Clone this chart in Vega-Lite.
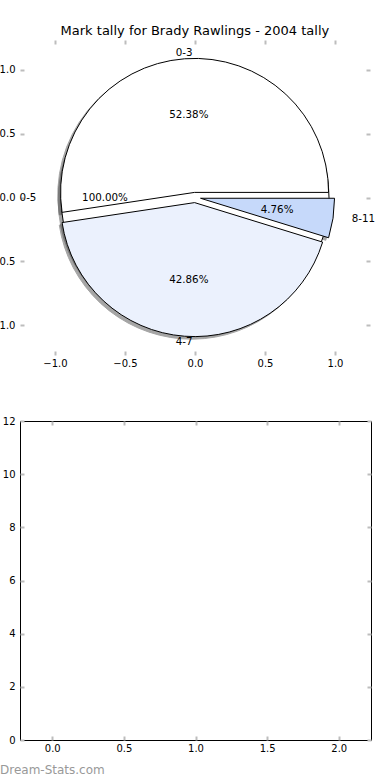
{
  "$schema": "https://vega.github.io/schema/vega-lite/v6.json",
  "padding": {"left": -10, "top": 25, "right": 5, "bottom": 0},
  "title": {"text": "Mark tally for Brady Rawlings - 2004 tally", "font": "DejaVu Sans", "fontSize": 13, "fontWeight": "normal", "color": "black", "anchor": "middle", "offset": 1, "dx": 12},
  "datasets": {
    "slices": [
      {"i": 1, "label": "0-3", "count": 11, "pct": 0.5238095},
      {"i": 2, "label": "4-7", "count": 9, "pct": 0.4285714},
      {"i": 3, "label": "8-11", "count": 1, "pct": 0.047619}
    ],
    "outer": [
      {"i": 0, "label": "0-5", "count": 21, "pct": 1.0}
    ],
    "empty": []
  },
  "config": {
    "view": {"stroke": null},
    "font": "DejaVu Sans",
    "axis": {"domain": false, "grid": false, "ticks": true, "tickColor": "#bdbdbd", "tickSize": -4, "tickWidth": 2, "labelFont": "DejaVu Sans", "labelFontSize": 10, "labelColor": "black", "minExtent": 0},
    "axisX": {"labelPadding": 7},
    "axisY": {"labelPadding": 9},
    "text": {"font": "DejaVu Sans", "fontSize": 10.3, "color": "black"}
  },
  "spacing": 47,
  "vconcat": [
    {
      "width": 350,
      "height": 315,
      "resolve": {"axis": {"x": "independent", "y": "independent"}},
      "layer": [
        {
          "data": {"name": "outer"},
          "mark": {"type": "point", "opacity": 0},
          "encoding": {
            "x": {"datum": 0, "type": "quantitative", "scale": {"domain": [-1.25, 1.25], "nice": false, "zero": false}, "axis": {"orient": "bottom", "values": [-1, -0.5, 0, 0.5, 1], "format": ".1f", "title": null}},
            "y": {"datum": 0, "type": "quantitative", "scale": {"domain": [-1.235, 1.235], "nice": false, "zero": false}, "axis": {"orient": "left", "values": [-1, -0.5, 0, 0.5, 1], "format": ".1f", "title": null}}
          }
        },
        {
          "data": {"name": "outer"},
          "mark": {"type": "point", "opacity": 0},
          "encoding": {
            "x": {"datum": 0, "type": "quantitative", "axis": {"orient": "top", "values": [-1, -0.5, 0, 0.5, 1], "labels": false, "title": null}},
            "y": {"datum": 0, "type": "quantitative", "axis": {"orient": "right", "values": [-1, -0.5, 0, 0.5, 1], "labels": false, "title": null}}
          }
        },
        {
          "data": {"name": "outer"},
          "mark": {"type": "arc", "radius": 134, "fill": "#4d4d4d", "stroke": "#4d4d4d", "strokeWidth": 1, "opacity": 0.5},
          "encoding": {
            "x": {"datum": -0.02, "type": "quantitative", "axis": null},
            "y": {"datum": -0.02, "type": "quantitative", "axis": null},
            "theta": {"field": "count", "type": "quantitative", "scale": {"domain": [0, 21], "range": [1.5708, -4.7124]}}
          }
        },
        {
          "data": {"name": "slices"},
          "transform": [
            {"stack": "count", "groupby": [], "sort": [{"field": "i", "order": "ascending"}], "as": ["t0", "t1"]},
            {"filter": "datum.i == 1"}
          ],
          "mark": {"type": "arc", "radius": 134, "fill": "#4d4d4d", "stroke": "#4d4d4d", "strokeWidth": 1, "opacity": 0.5},
          "encoding": {
            "x": {"datum": -0.023, "type": "quantitative", "axis": null},
            "y": {"datum": 0.02, "type": "quantitative", "axis": null},
            "theta": {"field": "t0", "type": "quantitative", "scale": {"domain": [0, 21], "range": [1.5708, -4.7124]}},
            "theta2": {"field": "t1"}
          }
        },
        {
          "data": {"name": "slices"},
          "transform": [
            {"stack": "count", "groupby": [], "sort": [{"field": "i", "order": "ascending"}], "as": ["t0", "t1"]},
            {"filter": "datum.i == 2"}
          ],
          "mark": {"type": "arc", "radius": 134, "fill": "#4d4d4d", "stroke": "#4d4d4d", "strokeWidth": 1, "opacity": 0.5},
          "encoding": {
            "x": {"datum": -0.023, "type": "quantitative", "axis": null},
            "y": {"datum": -0.06, "type": "quantitative", "axis": null},
            "theta": {"field": "t0", "type": "quantitative", "scale": {"domain": [0, 21], "range": [1.5708, -4.7124]}},
            "theta2": {"field": "t1"}
          }
        },
        {
          "data": {"name": "slices"},
          "transform": [
            {"stack": "count", "groupby": [], "sort": [{"field": "i", "order": "ascending"}], "as": ["t0", "t1"]},
            {"filter": "datum.i == 3"}
          ],
          "mark": {"type": "arc", "radius": 134, "fill": "#4d4d4d", "stroke": "#4d4d4d", "strokeWidth": 1, "opacity": 0.5},
          "encoding": {
            "x": {"datum": 0.0196, "type": "quantitative", "axis": null},
            "y": {"datum": -0.026, "type": "quantitative", "axis": null},
            "theta": {"field": "t0", "type": "quantitative", "scale": {"domain": [0, 21], "range": [1.5708, -4.7124]}},
            "theta2": {"field": "t1"}
          }
        },
        {
          "data": {"name": "outer"},
          "mark": {"type": "arc", "radius": 134, "fill": "#ffffff", "stroke": "black", "strokeWidth": 1},
          "encoding": {
            "x": {"datum": 0, "type": "quantitative", "axis": null},
            "y": {"datum": 0, "type": "quantitative", "axis": null},
            "theta": {"field": "count", "type": "quantitative", "scale": {"domain": [0, 21], "range": [1.5708, -4.7124]}}
          }
        },
        {
          "data": {"name": "slices"},
          "transform": [
            {"stack": "count", "groupby": [], "sort": [{"field": "i", "order": "ascending"}], "as": ["t0", "t1"]},
            {"filter": "datum.i == 1"}
          ],
          "mark": {"type": "arc", "radius": 134, "fill": "#ffffff", "stroke": "black", "strokeWidth": 1},
          "encoding": {
            "x": {"datum": -0.003, "type": "quantitative", "axis": null},
            "y": {"datum": 0.04, "type": "quantitative", "axis": null},
            "theta": {"field": "t0", "type": "quantitative", "scale": {"domain": [0, 21], "range": [1.5708, -4.7124]}},
            "theta2": {"field": "t1"}
          }
        },
        {
          "data": {"name": "slices"},
          "transform": [
            {"stack": "count", "groupby": [], "sort": [{"field": "i", "order": "ascending"}], "as": ["t0", "t1"]},
            {"filter": "datum.i == 2"}
          ],
          "mark": {"type": "arc", "radius": 134, "fill": "#ebf1fd", "stroke": "black", "strokeWidth": 1},
          "encoding": {
            "x": {"datum": -0.003, "type": "quantitative", "axis": null},
            "y": {"datum": -0.04, "type": "quantitative", "axis": null},
            "theta": {"field": "t0", "type": "quantitative", "scale": {"domain": [0, 21], "range": [1.5708, -4.7124]}},
            "theta2": {"field": "t1"}
          }
        },
        {
          "data": {"name": "slices"},
          "transform": [
            {"stack": "count", "groupby": [], "sort": [{"field": "i", "order": "ascending"}], "as": ["t0", "t1"]},
            {"filter": "datum.i == 3"}
          ],
          "mark": {"type": "arc", "radius": 134, "fill": "#c6d9fa", "stroke": "black", "strokeWidth": 1},
          "encoding": {
            "x": {"datum": 0.0396, "type": "quantitative", "axis": null},
            "y": {"datum": -0.006, "type": "quantitative", "axis": null},
            "theta": {"field": "t0", "type": "quantitative", "scale": {"domain": [0, 21], "range": [1.5708, -4.7124]}},
            "theta2": {"field": "t1"}
          }
        },
        {
          "data": {"name": "slices"},
          "mark": {"type": "text", "radius": 145, "baseline": "middle", "align": "center"},
          "encoding": {
            "theta": {"field": "count", "type": "quantitative", "stack": true, "scale": {"domain": [0, 21], "range": [1.5708, -4.7124]}},
            "order": {"field": "i", "type": "quantitative"},
            "text": {"condition": {"test": "datum.i < 3", "field": "label", "type": "nominal"}, "value": ""}
          }
        },
        {
          "data": {"name": "slices"},
          "mark": {"type": "text", "radius": 145, "dx": 25, "baseline": "middle", "align": "center"},
          "encoding": {
            "theta": {"field": "count", "type": "quantitative", "stack": true, "scale": {"domain": [0, 21], "range": [1.5708, -4.7124]}},
            "order": {"field": "i", "type": "quantitative"},
            "text": {"condition": {"test": "datum.i == 3", "field": "label", "type": "nominal"}, "value": ""}
          }
        },
        {
          "data": {"name": "slices"},
          "mark": {"type": "text", "radius": 83, "baseline": "middle", "align": "center"},
          "encoding": {
            "theta": {"field": "count", "type": "quantitative", "stack": true, "scale": {"domain": [0, 21], "range": [1.5708, -4.7124]}},
            "order": {"field": "i", "type": "quantitative"},
            "text": {"field": "pct", "type": "quantitative", "format": ".2%"}
          }
        },
        {
          "data": {"name": "outer"},
          "mark": {"type": "text", "radius": 167, "baseline": "middle", "align": "center"},
          "encoding": {
            "theta": {"field": "count", "type": "quantitative", "stack": true, "scale": {"domain": [0, 21], "range": [1.5708, -4.7124]}},
            "text": {"field": "label", "type": "nominal"}
          }
        },
        {
          "data": {"name": "outer"},
          "mark": {"type": "text", "radius": 90, "baseline": "middle", "align": "center"},
          "encoding": {
            "theta": {"field": "count", "type": "quantitative", "stack": true, "scale": {"domain": [0, 21], "range": [1.5708, -4.7124]}},
            "text": {"field": "pct", "type": "quantitative", "format": ".2%"}
          }
        }
      ]
    },
    {
      "width": 351,
      "height": 319,
      "view": {"stroke": "black", "strokeWidth": 1},
      "title": {"text": "Dream-Stats.com", "orient": "bottom", "anchor": "start", "frame": "group", "dx": -20, "offset": 12, "font": "DejaVu Sans", "fontSize": 12, "fontWeight": "normal", "color": "#999999"},
      "resolve": {"axis": {"x": "independent", "y": "independent"}},
      "layer": [
        {
          "data": {"name": "empty"},
          "mark": {"type": "point", "opacity": 0},
          "encoding": {
            "x": {"field": "x", "type": "quantitative", "scale": {"domain": [-0.225, 2.225], "nice": false, "zero": false}, "axis": {"orient": "bottom", "values": [0, 0.5, 1, 1.5, 2], "format": ".1f", "title": null}},
            "y": {"field": "y", "type": "quantitative", "scale": {"domain": [0, 12], "nice": false, "zero": false}, "axis": {"orient": "left", "values": [0, 2, 4, 6, 8, 10, 12], "format": "d", "title": null}}
          }
        },
        {
          "data": {"name": "empty"},
          "mark": {"type": "point", "opacity": 0},
          "encoding": {
            "x": {"field": "x", "type": "quantitative", "axis": {"orient": "top", "values": [0, 0.5, 1, 1.5, 2], "labels": false, "title": null}},
            "y": {"field": "y", "type": "quantitative", "axis": {"orient": "right", "values": [0, 2, 4, 6, 8, 10, 12], "labels": false, "title": null}}
          }
        }
      ]
    }
  ]
}
